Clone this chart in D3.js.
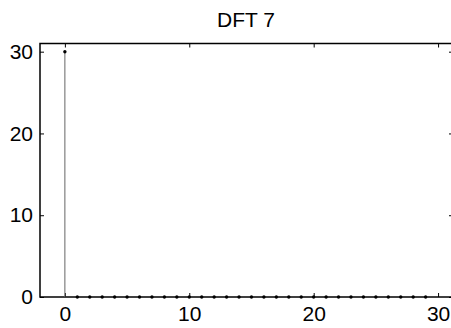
<!DOCTYPE html>
<html lang="en">
<head>
<meta charset="UTF-8">
<title>DFT 7</title>
<style>
  body { margin: 0; background: #fff; }
  text { font-family: "Liberation Sans", Arial, sans-serif; fill: #000; }
</style>
</head>
<body>
<svg width="451" height="328"></svg>
<script src="https://d3js.org/d3.v7.min.js"></script>
<script>
// stem data: bin index and magnitude
const bins = d3.range(0, 30);
const magnitudes = [30, 0, 0, 0, 0, 0, 0, 0, 0, 0,
                    0, 0, 0, 0, 0, 0, 0, 0, 0, 0,
                    0, 0, 0, 0, 0, 0, 0, 0, 0, 0];
const xTicks = [0, 10, 20, 30];
const yTicks = [0, 10, 20, 30];
const title = "DFT 7";

const margin = { top: 43.5, right: -2, bottom: 31, left: 40 },
      width = 451 - margin.left - margin.right,
      height = 328 - margin.top - margin.bottom;

const svg = d3.select("svg");
const g = svg.append("g")
    .attr("transform", "translate(" + margin.left + "," + margin.top + ")");

const x = d3.scaleLinear().domain([-2, 31.2]).range([0, width]);
const y = d3.scaleLinear().domain([0, 31]).range([height, 0]);

// axes, ticks pointing inward
const tickLen = 4;
g.append("g")
    .attr("transform", "translate(0," + height + ")")
    .call(d3.axisBottom(x).tickValues(xTicks).tickSizeInner(-tickLen).tickSizeOuter(0).tickPadding(9));
g.append("g")
    .call(d3.axisTop(x).tickValues(xTicks).tickSizeInner(-tickLen).tickSizeOuter(0).tickFormat(""));
g.append("g")
    .call(d3.axisLeft(y).tickValues(yTicks).tickSizeInner(-tickLen).tickSizeOuter(0).tickPadding(7));
g.append("g")
    .attr("transform", "translate(" + width + ",0)")
    .call(d3.axisRight(y).tickValues(yTicks).tickSizeInner(-tickLen).tickSizeOuter(0).tickFormat(""));

g.selectAll(".domain").remove();
g.selectAll(".tick line").attr("stroke", "#000");
g.selectAll(".tick text").style("font-size", "21px").attr("fill", "#000");

// box
g.append("rect")
    .attr("width", width)
    .attr("height", height)
    .attr("fill", "none")
    .attr("stroke", "#000")
    .attr("stroke-width", 1.5);

// stems
g.selectAll("line.stem")
    .data(bins)
  .enter().append("line")
    .attr("class", "stem")
    .attr("x1", d => x(d))
    .attr("x2", d => x(d))
    .attr("y1", y(0))
    .attr("y2", (d, i) => y(magnitudes[i]))
    .attr("stroke", "#666")
    .attr("stroke-width", 1);

g.selectAll("circle.mark")
    .data(bins)
  .enter().append("circle")
    .attr("class", "mark")
    .attr("cx", d => x(d))
    .attr("cy", (d, i) => y(magnitudes[i]))
    .attr("r", 1.7)
    .attr("fill", "#000");

// title
svg.append("text")
    .attr("x", 246)
    .attr("y", 27)
    .attr("text-anchor", "middle")
    .style("font-size", "21px")
    .text(title);
</script>
</body>
</html>
